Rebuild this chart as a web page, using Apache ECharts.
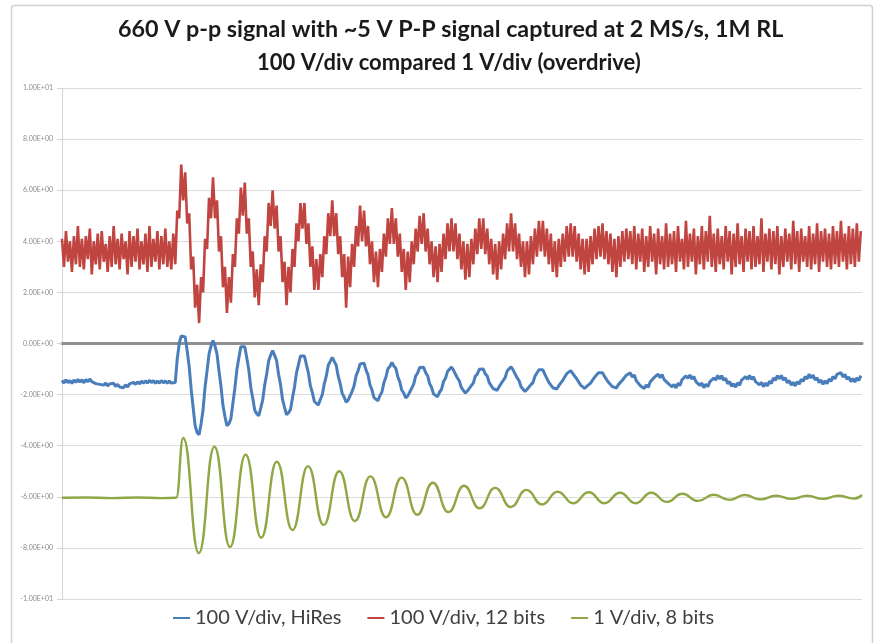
<!DOCTYPE html>
<html>
<head>
<meta charset="utf-8">
<script src="https://cdn.jsdelivr.net/npm/echarts@6/dist/echarts.min.js"></script>
<style>
html,body{margin:0;padding:0;background:#fff;}
#chart{width:877px;height:643px;}
</style>
</head>
<body>
<div id="chart"></div>
<script>
const titleText = '660 V p-p signal with ~5 V P-P signal captured at 2 MS/s, 1M RL';
const subtitleText = '100 V/div compared 1 V/div (overdrive)';
const seriesNames = ['100 V/div, HiRes', '100 V/div, 12 bits', '1 V/div, 8 bits'];
const yTickValues = [-10, -8, -6, -4, -2, 0, 2, 4, 6, 8, 10];
const yTickLabels = ['-1.00E+01', '-8.00E+00', '-6.00E+00', '-4.00E+00', '-2.00E+00', '0.00E+00',
  '2.00E+00', '4.00E+00', '6.00E+00', '8.00E+00', '1.00E+01'];
const sampleSpan = 402.6; // record length in sample units

// 100 V/div, 12 bits (one value per sample)
const red12bit = [
 4.1,3.0,4.4,3.2,4.0,2.8,4.2,3.1,4.6,3.0,
 4.1,2.9,4.2,3.3,4.5,2.7,4.0,3.1,4.3,2.9,
 4.4,3.2,3.9,2.8,4.2,3.0,4.6,3.1,4.1,2.9,
 4.3,3.3,4.0,2.7,4.4,3.0,4.2,3.2,4.5,2.9,
 4.0,3.1,4.3,2.8,4.6,3.0,4.1,3.2,4.4,2.9,
 4.2,3.1,4.5,3.0,4.0,2.9,4.3,3.1,
 5.2,4.9,7.0,5.6,6.7,4.7,5.1,2.9,3.4,1.4,2.3,0.8,2.6,2.0,4.1,3.7,5.7,4.9,
 6.5,4.9,5.6,3.6,4.2,2.2,3.0,1.2,2.6,1.6,3.5,3.0,4.9,4.3,6.1,
 5.0,6.3,4.3,4.9,3.0,3.6,1.8,2.9,1.5,3.1,2.4,4.2,3.6,5.5,4.6,
 6.0,4.5,5.4,3.6,4.2,2.4,3.2,1.5,3.0,2.0,3.7,3.0,4.7,4.0,5.5,
 4.5,5.5,3.9,4.7,3.0,3.8,2.1,3.3,2.1,3.5,2.6,4.2,3.5,5.1,4.2,
 5.6,4.2,5.1,3.5,4.2,2.6,3.5,1.4,3.4,2.2,3.9,3.0,4.6,3.8,5.4,
 4.0,5.2,3.8,4.6,3.1,4.0,2.4,3.6,2.2,3.7,2.8,4.3,3.4,4.9,3.9,
 5.3,3.9,4.9,3.4,4.3,2.8,3.7,2.1,3.6,2.4,4.0,3.1,4.5,3.6,5.0,
 3.9,5.1,3.6,4.5,3.1,4.0,2.6,3.8,2.4,3.9,2.8,4.3,3.3,4.7,3.6,
 4.9,3.6,4.7,3.3,4.3,2.9,4.0,2.5,3.9,2.6,4.1,3.1,4.5,3.5,4.9,
 3.7,4.9,3.5,4.5,3.1,4.1,2.7,3.9,2.5,4.0,2.9,4.3,3.3,4.7,3.6,
 5.1,3.6,4.7,3.3,4.3,3.0,4.0,2.6,4.0,2.7,4.2,3.1,4.5,3.4,4.8,
 3.6,4.8,3.4,4.5,3.1,4.3,2.8,4.0,2.6,4.1,3.0,4.3,3.2,4.6,3.4,
 4.7,3.4,4.6,3.2,4.3,2.9,4.1,2.7,4.1,2.8,4.2,3.1,4.5,3.3,4.6,
 3.4,4.7,3.3,4.4,3.1,4.3,2.8,4.1,2.6,4.2,3.0,4.4,3.2,4.5,3.3,
 4.4,3.1,4.6,2.9,4.3,3.2,4.5,2.8,4.2,3.0,
 4.6,3.2,4.3,2.7,4.5,3.1,4.2,2.9,4.7,3.0,
 4.3,3.1,4.4,2.8,4.6,3.2,4.1,2.9,4.8,3.0,
 4.3,3.2,4.5,2.7,4.2,3.1,4.6,2.9,4.4,3.2,
 5.0,3.0,4.3,2.8,4.5,3.1,4.2,2.9,4.6,3.2,
 4.4,2.7,4.3,3.0,4.7,3.1,4.2,2.8,4.5,3.2,
 4.4,2.9,4.6,3.0,4.2,3.1,4.9,2.8,4.3,3.2,
 4.5,2.9,4.4,3.1,4.6,2.7,4.2,3.0,4.5,3.2,
 4.3,2.9,4.8,3.1,4.4,2.8,4.5,3.2,4.2,3.0,
 4.6,2.9,4.3,3.1,4.7,2.8,4.4,3.2,4.5,3.0,
 4.3,2.9,4.6,3.1,4.4,3.0,4.8,3.2,4.3,2.9,
 4.6,3.1,4.5,3.0,4.7,3.2,4.4
];

// 100 V/div, HiRes (one value per sample)
const blueHiRes = [
 -1.44,-1.55,-1.42,-1.53,-1.45,-1.56,-1.43,-1.52,-1.40,-1.51,
 -1.42,-1.54,-1.41,-1.50,-1.39,-1.49,-1.44,-1.57,-1.50,-1.60,
 -1.53,-1.63,-1.55,-1.66,-1.58,-1.64,-1.56,-1.68,-1.60,-1.70,
 -1.64,-1.73,-1.62,-1.70,-1.58,-1.64,-1.52,-1.60,-1.50,-1.58,
 -1.47,-1.56,-1.46,-1.55,-1.44,-1.53,-1.45,-1.56,-1.47,-1.55,
 -1.45,-1.54,-1.46,-1.56,-1.47,-1.55,-1.48,
 -1.53,-0.60,0.00,0.30,
 0.35,0.26,-0.29,-0.90,-1.78,-2.51,-3.22,-3.49,-3.57,-3.14,-2.59,-1.70,-1.07,-0.41,-0.10,
 0.12,-0.10,-0.41,-1.07,-1.67,-2.42,-2.86,-3.22,-3.14,-2.94,-2.34,-1.75,-1.03,-0.57,-0.13,
 -0.08,-0.13,-0.57,-1.03,-1.71,-2.14,-2.61,-2.75,-2.83,-2.53,-2.22,-1.63,-1.20,-0.68,-0.46,
 -0.28,-0.46,-0.68,-1.20,-1.62,-2.20,-2.50,-2.79,-2.71,-2.58,-2.12,-1.70,-1.15,-0.83,-0.49,
 -0.47,-0.49,-0.83,-1.15,-1.66,-1.92,-2.27,-2.33,-2.41,-2.19,-2.00,-1.58,-1.28,-0.85,-0.70,
 -0.54,-0.70,-0.85,-1.28,-1.57,-1.95,-2.10,-2.30,-2.22,-2.18,-1.87,-1.65,-1.26,-1.07,-0.80,
 -0.79,-0.77,-1.04,-1.23,-1.62,-1.82,-2.12,-2.16,-2.24,-2.04,-1.90,-1.54,-1.32,-0.99,-0.90,
 -0.74,-0.88,-0.97,-1.30,-1.51,-1.83,-1.94,-2.13,-2.05,-2.02,-1.75,-1.59,-1.27,-1.15,-0.94,
 -0.96,-0.93,-1.14,-1.26,-1.57,-1.72,-1.98,-2.00,-2.08,-1.90,-1.80,-1.49,-1.36,-1.10,-1.05,
 -0.92,-1.04,-1.09,-1.35,-1.47,-1.73,-1.78,-1.94,-1.86,-1.86,-1.65,-1.55,-1.28,-1.20,-1.01,
 -1.04,-1.00,-1.19,-1.27,-1.53,-1.59,-1.77,-1.75,-1.83,-1.69,-1.67,-1.45,-1.34,-1.08,-1.03,
 -0.91,-1.03,-1.08,-1.34,-1.45,-1.69,-1.73,-1.88,-1.80,-1.81,-1.61,-1.53,-1.28,-1.21,-1.03,
 -1.07,-1.03,-1.21,-1.28,-1.52,-1.56,-1.73,-1.70,-1.78,-1.65,-1.64,-1.44,-1.38,-1.18,-1.17,
 -1.06,-1.17,-1.18,-1.38,-1.44,-1.63,-1.64,-1.76,-1.68,-1.72,-1.55,-1.52,-1.32,-1.29,-1.14,
 -1.19,-1.14,-1.29,-1.32,-1.52,-1.54,-1.69,-1.66,-1.74,-1.61,-1.62,-1.44,-1.41,-1.24,-1.26,
 -1.15,-1.31,-1.23,-1.46,-1.42,-1.65,-1.58,-1.76,-1.62,-1.72,-1.51,-1.56,-1.33,-1.39,-1.20,
 -1.34,-1.22,-1.41,-1.34,-1.56,-1.50,-1.70,-1.60,-1.74,-1.56,-1.64,-1.42,-1.48,-1.27,-1.36,
 -1.23,-1.39,-1.29,-1.49,-1.43,-1.64,-1.55,-1.73,-1.59,-1.69,-1.50,-1.57,-1.35,-1.43,-1.25,
 -1.39,-1.26,-1.44,-1.36,-1.57,-1.49,-1.68,-1.57,-1.71,-1.54,-1.63,-1.43,-1.50,-1.30,-1.40,
 -1.25,-1.40,-1.30,-1.49,-1.42,-1.62,-1.52,-1.69,-1.55,-1.66,-1.48,-1.56,-1.35,-1.44,-1.26,
 -1.38,-1.25,-1.43,-1.34,-1.54,-1.45,-1.63,-1.52,-1.66,-1.49,-1.59,-1.40,-1.48,-1.29,-1.39,
 -1.20,-1.35,-1.24,-1.43,-1.34,-1.53,-1.43,-1.60,-1.46,-1.57,-1.39,-1.48,-1.29,-1.38,-1.21,
 -1.27,-1.14,-1.31,-1.21,-1.40,-1.31,-1.49,-1.37,-1.51,-1.35,-1.45,-1.26
];

// 1 V/div, 8 bits: sample times of the turning points and their values
const greenTime = [0, 12, 25, 38, 50, 57.5, 61.0,
 68.85, 76.7, 84.55, 92.4, 100.25, 108.1, 115.95, 123.8, 131.65, 139.5, 147.35, 155.2,
 163.05, 170.9, 178.75, 186.6, 194.45, 202.3, 210.15, 218.0, 225.85, 233.7, 241.55, 249.4,
 257.25, 265.1, 272.95, 280.8, 288.65, 296.5, 304.35, 312.2, 320.05, 327.9, 335.75, 343.6,
 351.45, 359.3, 367.15, 375.0, 382.85, 390.7, 398.55, 402.6];
const green8bit = [-6.04, -6.03, -6.05, -6.03, -6.05, -6.04, -3.7,
 -8.2, -4.04, -7.96, -4.35, -7.6, -4.63, -7.3, -4.8, -7.1, -5.0, -6.95, -5.2,
 -6.8, -5.25, -6.7, -5.45, -6.6, -5.57, -6.45, -5.65, -6.4, -5.73, -6.3, -5.8,
 -6.25, -5.82, -6.25, -5.84, -6.25, -5.84, -6.2, -5.88, -6.16, -5.92, -6.12, -5.93,
 -6.1, -5.96, -6.08, -5.96, -6.08, -5.96, -6.07, -5.93];

const FONT = 'Lato, "Open Sans", sans-serif';
const chart = echarts.init(document.getElementById('chart'), null, {renderer: 'canvas'});
const option = {
  animation: false,
  backgroundColor: '#ffffff',
  graphic: [{
    type: 'rect', silent: true, z: -1,
    shape: {x: 11.5, y: 5.5, width: 861, height: 660, r: 3},
    style: {fill: 'none', stroke: '#d0d0d0', lineWidth: 1.5}
  }],
  title: [
    {text: titleText, left: 118, top: 18, padding: 0,
     textStyle: {fontFamily: FONT, fontWeight: 'bold', fontSize: 23.3, color: '#1a1a1a'}},
    {text: subtitleText, left: 257, top: 52, padding: 0,
     textStyle: {fontFamily: FONT, fontWeight: 'bold', fontSize: 22, color: '#1a1a1a'}}
  ],
  legend: {
    data: seriesNames, left: 173, top: 608, padding: 0, icon: 'rect', itemWidth: 17, itemHeight: 2,
    itemGap: 26, textStyle: {fontFamily: FONT, fontSize: 20, color: '#404040'}
  },
  grid: {left: 62, right: 15, top: 88, bottom: 44},
  xAxis: {
    type: 'value', min: 0, max: sampleSpan,
    axisLine: {onZero: true, lineStyle: {color: '#8f8f8f', width: 3}},
    axisTick: {show: false}, axisLabel: {show: false}, splitLine: {show: false}
  },
  yAxis: {
    type: 'value', min: yTickValues[0], max: yTickValues[yTickValues.length - 1], interval: 2,
    axisLine: {show: true, lineStyle: {color: '#d4d4d4', width: 1}},
    axisTick: {show: true, length: 5, lineStyle: {color: '#d4d4d4'}},
    axisLabel: {fontFamily: FONT, fontSize: 7, color: '#8a8a8a', margin: 9,
      formatter: v => { const k = yTickValues.indexOf(Math.round(v)); return k >= 0 ? yTickLabels[k] : ''; }},
    splitLine: {lineStyle: {color: '#dcdcdc', width: 1}}
  },
  series: [
    {name: seriesNames[0], type: 'line', showSymbol: false, symbol: 'none',
     data: blueHiRes.map((v, i) => [i, v]),
     itemStyle: {color: '#4A7EBB'}, lineStyle: {color: '#4A7EBB', width: 3}},
    {name: seriesNames[1], type: 'line', showSymbol: false, symbol: 'none',
     data: red12bit.map((v, i) => [i, v]),
     itemStyle: {color: '#C0443F'}, lineStyle: {color: '#C0443F', width: 2.6}},
    {name: seriesNames[2], type: 'line', showSymbol: false, symbol: 'none',
     smooth: 0.5, smoothMonotone: 'x',
     data: green8bit.map((v, i) => [greenTime[i], v]),
     itemStyle: {color: '#8FA845'}, lineStyle: {color: '#8FA845', width: 2.4}}
  ]
};
chart.setOption(option);
</script>
</body>
</html>
